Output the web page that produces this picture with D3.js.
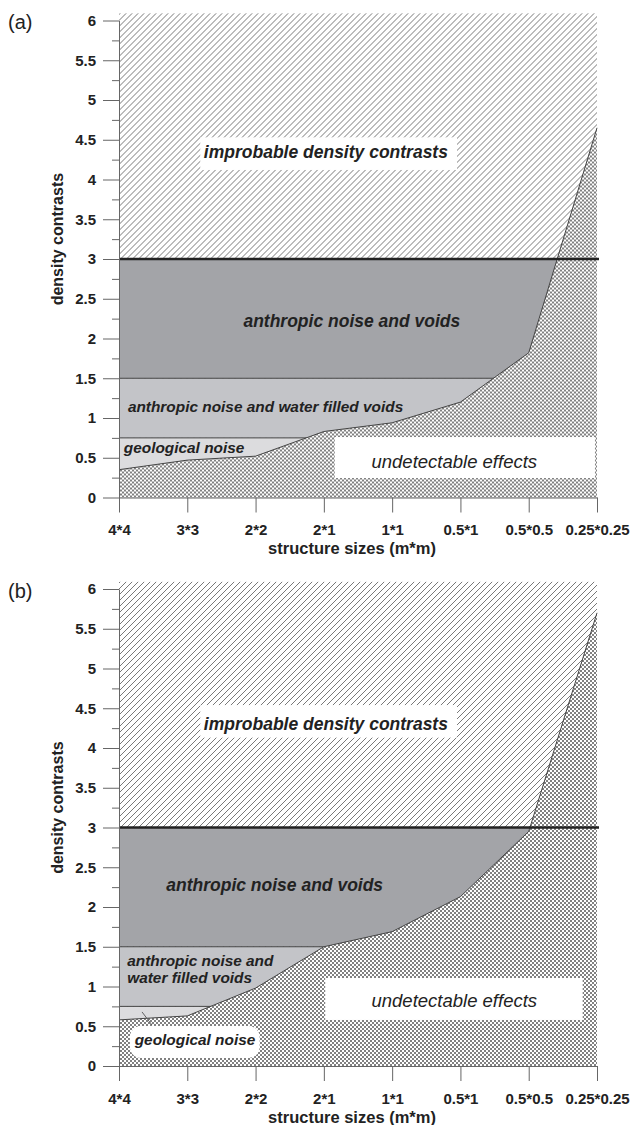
<!DOCTYPE html>
<html>
<head>
<meta charset="utf-8">
<script src="https://cdn.jsdelivr.net/npm/d3@7"></script>
<style>
body { margin: 0; background: #fff; }
svg text { font-family: "Liberation Sans", Arial, sans-serif; }
</style>
</head>
<body>
<div id="chart-area"></div>
<script>
// structure sizes on the x axis
var categories = ["4*4", "3*3", "2*2", "2*1", "1*1", "0.5*1", "0.5*0.5", "0.25*0.25"];
// detectability limit (density contrast) for each structure size
var limitA = [0.35, 0.47, 0.52, 0.83, 0.94, 1.20, 1.82, 4.65];
var limitB = [0.58, 0.63, 0.98, 1.50, 1.69, 2.13, 2.95, 5.70];
// noise levels separating the grey bands
var geoLevel = 0.75, waterLevel = 1.5, voidLevel = 3;
var majorTicks = [0, 0.5, 1, 1.5, 2, 2.5, 3, 3.5, 4, 4.5, 5, 5.5, 6];
var minorTicks = [0.25, 0.75, 1.25, 1.75, 2.25, 2.75, 3.25, 3.75, 4.25, 4.75, 5.25, 5.75];

var margin = {left: 119, right: 35};
var width = 632 - margin.left - margin.right,
    height = 477;

var svg = d3.select("#chart-area").append("svg")
    .attr("width", 632)
    .attr("height", 1125);

var defs = svg.append("defs");
// diagonal hatch (improbable)
var hs = 6;
var hatch = defs.append("pattern")
    .attr("id", "hatch")
    .attr("patternUnits", "userSpaceOnUse")
    .attr("width", hs).attr("height", hs);
hatch.append("rect").attr("width", hs).attr("height", hs).attr("fill", "#fff");
hatch.append("path")
    .attr("d", "M-1," + (hs + 1) + "L" + (hs + 1) + ",-1")
    .attr("stroke", "#6a6a6a").attr("stroke-width", 0.9);
// cross hatch (undetectable)
var cs = 4;
var cross = defs.append("pattern")
    .attr("id", "cross")
    .attr("patternUnits", "userSpaceOnUse")
    .attr("width", cs).attr("height", cs);
cross.append("rect").attr("width", cs).attr("height", cs).attr("fill", "#fff");
cross.append("path")
    .attr("d", "M-1," + (cs + 1) + "L" + (cs + 1) + ",-1M-1,-1L" + (cs + 1) + "," + (cs + 1))
    .attr("stroke", "#4a4a4a").attr("stroke-width", 0.7);

var x = d3.scalePoint().domain(categories).range([0, width]);
var xi = d3.scaleLinear().domain([0, categories.length - 1]).range([0, width]);
var y = d3.scaleLinear().domain([0, 6]).range([height, 0]);

var panels = [
    {
        tag: "(a)", top: 20.5, limit: limitA,
        boxes: [
            {x0: 1.19, x1: 4.95, y0: 4.12, y1: 4.53, r: 0},
            {x0: 3.16, x1: 6.97, y0: 0.245, y1: 0.76, r: 0}
        ],
        notes: [
            {text: "improbable density contrasts", x: 3.03, y: 4.27, size: 17.5, anchor: "middle", weight: "bold"},
            {text: "undetectable effects", x: 4.91, y: 0.375, size: 18.5, anchor: "middle", weight: "normal"},
            {text: "anthropic noise and voids", x: 3.41, y: 2.15, size: 17.5, anchor: "middle", weight: "bold"},
            {text: "anthropic noise and water filled voids", x: 0.13, y: 1.075, size: 15.4, anchor: "start", weight: "bold"},
            {text: "geological noise", x: 0.07, y: 0.56, size: 15.4, anchor: "start", weight: "bold"}
        ],
        leader: null
    },
    {
        tag: "(b)", top: 589, limit: limitB,
        boxes: [
            {x0: 1.19, x1: 4.95, y0: 4.13, y1: 4.54, r: 0},
            {x0: 3.02, x1: 6.79, y0: 0.579, y1: 1.107, r: 0},
            {x0: 0.16, x1: 2.06, y0: 0.10, y1: 0.503, r: 11}
        ],
        notes: [
            {text: "improbable density contrasts", x: 3.03, y: 4.23, size: 17.5, anchor: "middle", weight: "bold"},
            {text: "undetectable effects", x: 4.91, y: 0.745, size: 18.5, anchor: "middle", weight: "normal"},
            {text: "anthropic noise and voids", x: 2.28, y: 2.195, size: 17.5, anchor: "middle", weight: "bold"},
            {text: "anthropic noise and", x: 0.12, y: 1.26, size: 15.4, anchor: "start", weight: "bold"},
            {text: "water filled voids", x: 0.12, y: 1.044, size: 15.4, anchor: "start", weight: "bold"},
            {text: "geological noise", x: 0.23, y: 0.264, size: 15.4, anchor: "start", weight: "bold"}
        ],
        leader: {x1: 0.337, y1: 0.68, x2: 0.483, y2: 0.516}
    }
];

panels.forEach(function(p) { drawPanel(p); });

function drawPanel(p) {
    var g = svg.append("g").attr("transform", "translate(" + margin.left + ", " + p.top + ")");

    // improbable zone, hatched
    g.append("rect")
        .attr("x", 0).attr("y", y(6.09))
        .attr("width", width).attr("height", y(0) - y(6.09))
        .attr("fill", "url(#hatch)");

    // noise bands
    var bands = [
        {from: 0, to: geoLevel, fill: "#dcdcde"},
        {from: geoLevel, to: waterLevel, fill: "#c3c4c8"},
        {from: waterLevel, to: voidLevel, fill: "#a3a4a8"}
    ];
    g.selectAll(".band").data(bands).enter().append("rect")
        .attr("class", "band")
        .attr("x", 0).attr("width", width)
        .attr("y", function(d) { return y(d.to); })
        .attr("height", function(d) { return y(d.from) - y(d.to); })
        .attr("fill", function(d) { return d.fill; });

    g.selectAll(".level").data([geoLevel, waterLevel]).enter().append("line")
        .attr("class", "level")
        .attr("x1", 0).attr("x2", width)
        .attr("y1", function(d) { return y(d); })
        .attr("y2", function(d) { return y(d); })
        .attr("stroke", "#444").attr("stroke-width", 1);

    // undetectable zone below the limit curve
    var area = d3.area()
        .x(function(d, i) { return x(categories[i]); })
        .y0(y(0))
        .y1(function(d) { return y(d); });
    g.append("path").datum(p.limit)
        .attr("d", area)
        .attr("fill", "url(#cross)");

    var line = d3.line()
        .x(function(d, i) { return x(categories[i]); })
        .y(function(d) { return y(d); });
    g.append("path").datum(p.limit)
        .attr("d", line)
        .attr("fill", "none")
        .attr("stroke", "#444").attr("stroke-width", 1);

    // heavy line at density contrast 3
    g.append("line")
        .attr("x1", 0).attr("x2", width + 2)
        .attr("y1", y(voidLevel)).attr("y2", y(voidLevel))
        .attr("stroke", "#222").attr("stroke-width", 2.5);

    if (p.leader) {
        g.append("line")
            .attr("x1", xi(p.leader.x1)).attr("y1", y(p.leader.y1))
            .attr("x2", xi(p.leader.x2)).attr("y2", y(p.leader.y2))
            .attr("stroke", "#555").attr("stroke-width", 0.9);
    }

    g.selectAll(".box").data(p.boxes).enter().append("rect")
        .attr("class", "box")
        .attr("x", function(d) { return xi(d.x0); })
        .attr("y", function(d) { return y(d.y1); })
        .attr("width", function(d) { return xi(d.x1) - xi(d.x0); })
        .attr("height", function(d) { return y(d.y0) - y(d.y1); })
        .attr("rx", function(d) { return d.r; })
        .attr("fill", "#fff");

    g.selectAll(".note").data(p.notes).enter().append("text")
        .attr("class", "note")
        .attr("x", function(d) { return xi(d.x); })
        .attr("y", function(d) { return y(d.y); })
        .attr("text-anchor", function(d) { return d.anchor; })
        .attr("font-size", function(d) { return d.size + "px"; })
        .attr("font-weight", function(d) { return d.weight; })
        .attr("font-style", "italic")
        .style("fill", "#222")
        .text(function(d) { return d.text; });

    // axes
    var leftAxis = d3.axisLeft(y).tickValues(majorTicks)
        .tickSize(16).tickSizeOuter(0).tickPadding(7)
        .tickFormat(function(d) { return d3.format("")(d); });
    var yAxisGroup = g.append("g").attr("class", "y axis").call(leftAxis);

    var minorAxis = d3.axisLeft(y).tickValues(minorTicks)
        .tickSize(7).tickSizeOuter(0).tickFormat("");
    var minorGroup = g.append("g").attr("class", "y minor").call(minorAxis);
    minorGroup.select(".domain").remove();

    var bottomAxis = d3.axisBottom(x).tickSize(15).tickSizeOuter(0).tickPadding(12);
    var xAxisGroup = g.append("g")
        .attr("class", "x axis")
        .attr("transform", "translate(0, " + height + ")")
        .call(bottomAxis);

    [yAxisGroup, minorGroup, xAxisGroup].forEach(function(a) {
        a.selectAll("path, line").attr("stroke", "#666").attr("stroke-width", 1);
        a.selectAll("text")
            .attr("font-family", "'Liberation Sans', Arial, sans-serif")
            .attr("font-size", "15px")
            .attr("font-weight", "bold")
            .style("fill", "#222");
    });

    // Y Label
    g.append("text")
        .attr("transform", "translate(-62, " + y(3.25) + ") rotate(-90)")
        .attr("dy", "0.35em")
        .attr("text-anchor", "middle")
        .attr("font-size", "16px")
        .attr("font-weight", "bold")
        .style("fill", "#222")
        .text("density contrasts");

    // X Label
    g.append("text")
        .attr("x", width / 2 - 6)
        .attr("y", height + 56.5)
        .attr("text-anchor", "middle")
        .attr("font-size", "16.5px")
        .attr("font-weight", "bold")
        .style("fill", "#222")
        .text("structure sizes (m*m)");

    // panel tag
    g.append("text")
        .attr("x", 8 - margin.left)
        .attr("y", 8.5)
        .attr("font-family", "'Liberation Serif', 'Times New Roman', serif")
        .attr("font-size", "20px")
        .style("fill", "#222")
        .text(p.tag);
}
</script>
</body>
</html>
